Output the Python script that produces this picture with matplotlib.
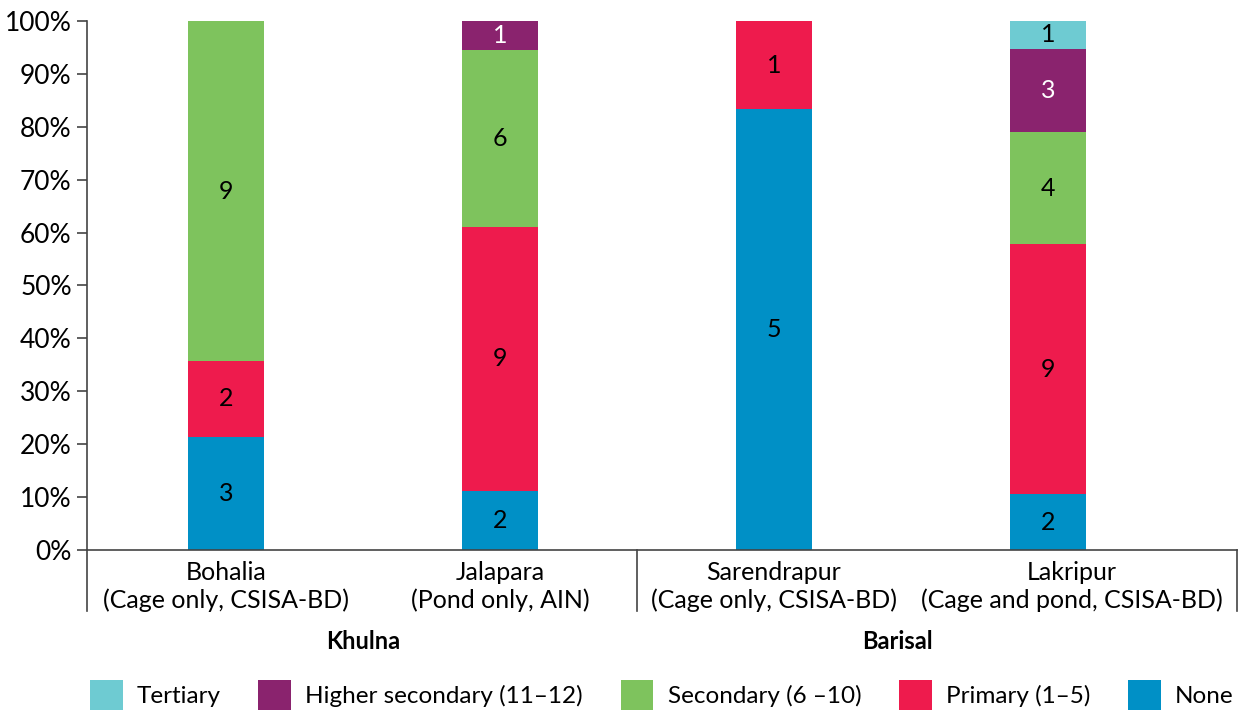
import matplotlib.pyplot as plt
import matplotlib.transforms as mtransforms
from matplotlib.patches import Patch
from matplotlib.ticker import PercentFormatter
import numpy as np

plt.rcParams['font.family'] = ['Lato', 'DejaVu Sans']

sites = ["Bohalia\n(Cage only, CSISA-BD)", "Jalapara\n(Pond only, AIN)",
         "Sarendrapur\n(Cage only, CSISA-BD)", "Lakripur\n(Cage and pond, CSISA-BD)"]
regions = ["Khulna", "Barisal"]

# respondent counts per education level, bottom to top
none = [3, 2, 5, 2]
primary = [2, 9, 1, 9]
secondary = [9, 6, 0, 4]
higher_secondary = [0, 1, 0, 3]
tertiary = [0, 0, 0, 1]

levels = {
    "None": (np.array(none), "#0090C6"),
    "Primary (1\u20135)": (np.array(primary), "#EE1B4D"),
    "Secondary (6 \u201310)": (np.array(secondary), "#7EC35D"),
    "Higher secondary (11\u201312)": (np.array(higher_secondary), "#8A236E"),
    "Tertiary": (np.array(tertiary), "#6ECBD2"),
}

totals = sum(v for v, _ in levels.values())
fs = 18

fig = plt.figure(figsize=(12.39, 7.1), dpi=100)
ax = fig.add_axes([0.0702, 0.2254, 0.928, 0.745])

x = np.arange(len(sites))
bottom = np.zeros(len(sites))
for name, (counts, color) in levels.items():
    share = counts / totals
    ax.bar(x, share, 0.277, bottom=bottom, color=color, label=name)
    txt_color = "white" if name.startswith("Higher") else "black"
    for xi, c, s, b in zip(x, counts, share, bottom):
        if c > 0:
            ax.text(xi, b + s / 2, str(c), ha="center", va="center",
                    fontsize=fs, color=txt_color)
    bottom += share

ax.set_xlim(-0.507, 3.69)
ax.set_ylim(0, 1)
ax.set_yticks(np.arange(0, 1.01, 0.1))
ax.yaxis.set_major_formatter(PercentFormatter(1.0, decimals=0))
ax.tick_params(axis="y", labelsize=fs + 1, length=7, width=1.2, color="#444444", pad=4)
ax.set_xticks(x)
ax.set_xticklabels(sites, fontsize=fs, linespacing=1.2)
ax.tick_params(axis="x", length=0, pad=8)

# the last label is wider than its slot, nudge it right
last = ax.get_xticklabels()[-1]
last.set_transform(last.get_transform() +
                   mtransforms.ScaledTranslation(0.24, 0, fig.dpi_scale_trans))

for side in ["top", "right"]:
    ax.spines[side].set_visible(False)
ax.spines["left"].set_color("#444444")
ax.spines["bottom"].set_color("#444444")
ax.spines["left"].set_linewidth(1.2)
ax.spines["bottom"].set_linewidth(1.2)
ax.spines["bottom"].set_bounds(-0.507, 3.69)

# group dividers below the category axis
trans = mtransforms.blended_transform_factory(ax.transData, ax.transAxes)
for xd in [-0.507, 1.5, 3.69]:
    ax.plot([xd, xd], [0, -0.116], transform=trans, color="#444444",
            lw=1.2, clip_on=False)

for label, xc in zip(regions, [0.5, 2.45]):
    ax.text(xc, -0.152, label, transform=trans, ha="center", va="top",
            fontsize=fs - 1, fontweight="bold")

names = list(levels.keys())[::-1]
handles = [Patch(facecolor=levels[n][1]) for n in names]
fig.legend(handles, names, loc="lower center", bbox_to_anchor=(0.534, -0.032),
           ncol=5, frameon=False, fontsize=17.5, handlelength=1.35,
           handleheight=1.6, columnspacing=1.55, handletextpad=0.58)

fig.savefig("out.png", dpi=100)
